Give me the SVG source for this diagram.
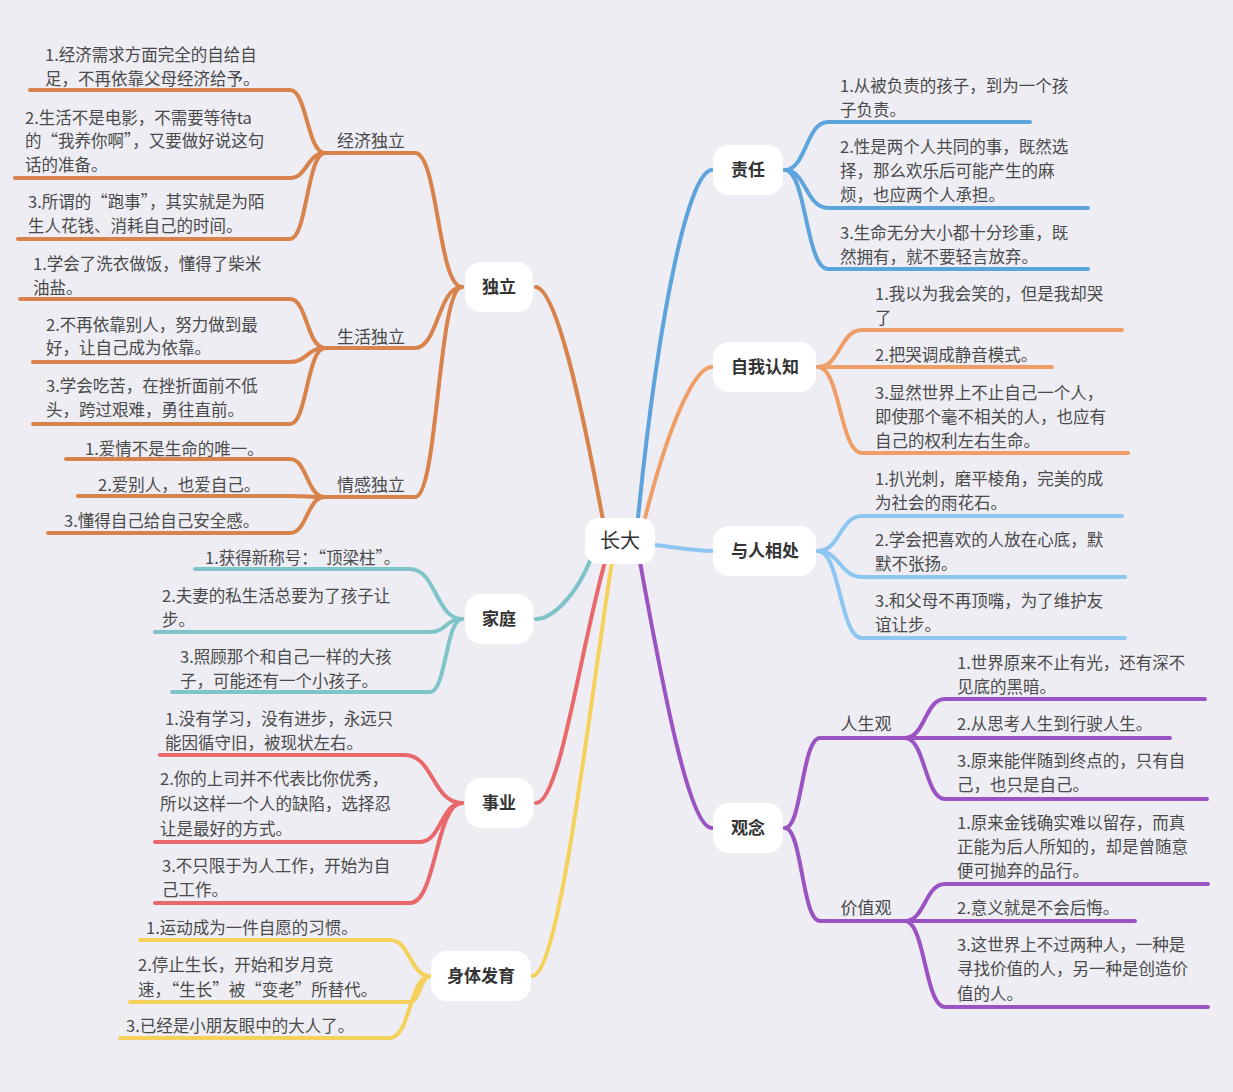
<svg xmlns="http://www.w3.org/2000/svg" width="1233" height="1092" viewBox="0 0 1233 1092">
<style>
.t{font-family:"Noto Sans CJK SC","Liberation Sans",sans-serif;font-size:16.5px;fill:#4a4a4a}
.s{font-family:"Noto Sans CJK SC","Liberation Sans",sans-serif;font-size:17px;fill:#4a4a4a;text-anchor:middle}
.m{font-family:"Noto Sans CJK SC","Liberation Sans",sans-serif;font-size:17px;font-weight:bold;fill:#333;text-anchor:middle}
.box{fill:#fff}
path{fill:none;stroke-width:4;stroke-linecap:round}
.c1{stroke:#d8824c}.c2{stroke:#5da3dc}.c3{stroke:#f09e68}.c4{stroke:#8ec6f2}.c5{stroke:#9b52c2}.c6{stroke:#7ec4c9}.c7{stroke:#e8686c}.c8{stroke:#f5d15c}
</style>
<rect width="1233" height="1092" fill="#ededf3"/>
<g id="connectors">
<path class="c1" d="M603,520 C590,450 560,290 536,287"/>
<path class="c6" d="M592,556 C575,600 550,619 536,619"/>
<path class="c7" d="M605,562 C580,650 560,803 536,803"/>
<path class="c8" d="M612,562 C590,700 560,976 532,976"/>
<path class="c2" d="M638,518 C660,300 690,170 712,170"/>
<path class="c3" d="M645,518 C670,420 695,367 712,367"/>
<path class="c4" d="M655,545 C680,548 695,551 712,551"/>
<path class="c5" d="M640,562 C665,700 690,828 712,828"/>
<!-- 独立 subs -->
<path class="c1" d="M462,287 C438,287 438,153 415,153 H325"/>
<path class="c1" d="M462,287 C438,287 438,348 415,348 H325"/>
<path class="c1" d="M462,287 C438,287 438,497 415,497 H325"/>
<path class="c1" d="M325,153 C307,153 307,90 290,90 H30"/>
<path class="c1" d="M325,153 C307,153 307,178 290,178 H15"/>
<path class="c1" d="M325,153 C307,153 307,239 290,239 H18"/>
<path class="c1" d="M325,348 C307,348 307,299 290,299 H20"/>
<path class="c1" d="M325,348 C307,348 307,362 290,362 H33"/>
<path class="c1" d="M325,348 C307,348 307,424 290,424 H33"/>
<path class="c1" d="M325,497 C307,497 307,459 290,459 H66"/>
<path class="c1" d="M325,497 C307,497 307,496 290,496 H78"/>
<path class="c1" d="M325,497 C307,497 307,533 290,533 H48"/>
<!-- 家庭 -->
<path class="c6" d="M462,619 C436,619 436,569 410,569 H195"/>
<path class="c6" d="M462,619 C446,619 446,632 430,632 H155"/>
<path class="c6" d="M462,619 C446,619 446,692 430,692 H172"/>
<!-- 事业 -->
<path class="c7" d="M462,803 C433,803 433,755 405,755 H160"/>
<path class="c7" d="M462,803 C441,803 441,842 420,842 H155"/>
<path class="c7" d="M462,803 C436,803 436,903 410,903 H155"/>
<!-- 身体发育 -->
<path class="c8" d="M430,976 C410,976 410,940 390,940 H140"/>
<path class="c8" d="M430,976 C420,976 420,1002 410,1002 H130"/>
<path class="c8" d="M430,976 C410,976 410,1038 390,1038 H120"/>
<!-- 责任 -->
<path class="c2" d="M785,170 C806,170 806,122 828,122 H1030"/>
<path class="c2" d="M785,170 C806,170 806,208 828,208 H1088"/>
<path class="c2" d="M785,170 C806,170 806,269 828,269 H1088"/>
<!-- 自我认知 -->
<path class="c3" d="M818,367 C840,367 840,330 862,330 H1122"/>
<path class="c3" d="M818,367 C840,367 840,367 862,367 H1052"/>
<path class="c3" d="M818,367 C840,367 840,453 862,453 H1128"/>
<!-- 与人相处 -->
<path class="c4" d="M818,551 C840,551 840,516 862,516 H1122"/>
<path class="c4" d="M818,551 C840,551 840,577 862,577 H1125"/>
<path class="c4" d="M818,551 C840,551 840,638 862,638 H1125"/>
<!-- 观念 -->
<path class="c5" d="M785,828 C802,828 802,738 820,738 H905"/>
<path class="c5" d="M785,828 C802,828 802,921 820,921 H905"/>
<path class="c5" d="M905,738 C925,738 925,699 945,699 H1205"/>
<path class="c5" d="M905,738 C925,738 925,738 945,738 H1170"/>
<path class="c5" d="M905,738 C925,738 925,799 945,799 H1207"/>
<path class="c5" d="M905,921 C925,921 925,884 945,884 H1208"/>
<path class="c5" d="M905,921 C925,921 925,921 945,921 H1135"/>
<path class="c5" d="M905,921 C925,921 925,1007 945,1007 H1208"/>
</g>
<g id="root"><rect class="box" x="585" y="518" width="70" height="46" rx="14"/><text class="m" x="620" y="548" style="font-size:20px;font-weight:normal">长大</text></g>
<g id="n-duli"><rect class="box" x="465" y="262" width="68" height="50" rx="16"/><text class="m" x="499" y="293">独立</text></g>
<g id="n-jiating"><rect class="box" x="465" y="594" width="68" height="50" rx="16"/><text class="m" x="499" y="625">家庭</text></g>
<g id="n-shiye"><rect class="box" x="465" y="778" width="68" height="50" rx="16"/><text class="m" x="499" y="809">事业</text></g>
<g id="n-shenti"><rect class="box" x="431" y="951" width="100" height="50" rx="16"/><text class="m" x="481" y="982">身体发育</text></g>
<g id="n-zeren"><rect class="box" x="713" y="145" width="70" height="50" rx="16"/><text class="m" x="748" y="176">责任</text></g>
<g id="n-ziwo"><rect class="box" x="713" y="342" width="103" height="50" rx="16"/><text class="m" x="765" y="373">自我认知</text></g>
<g id="n-yuren"><rect class="box" x="713" y="526" width="103" height="50" rx="16"/><text class="m" x="765" y="557">与人相处</text></g>
<g id="n-guannian"><rect class="box" x="713" y="803" width="70" height="50" rx="16"/><text class="m" x="748" y="834">观念</text></g>
<g id="subs">
<text class="s" x="371" y="147">经济独立</text>
<text class="s" x="371" y="343">生活独立</text>
<text class="s" x="371" y="491">情感独立</text>
<text class="s" x="866" y="730">人生观</text>
<text class="s" x="866" y="914">价值观</text>
</g>
<g id="leaves">
<text class="t" x="45" y="61">1.经济需求方面完全的自给自</text><text class="t" x="45" y="85">足，不再依靠父母经济给予。</text>
<text class="t" x="25" y="124">2.生活不是电影，不需要等待ta</text><text class="t" x="25" y="147">的“我养你啊”，又要做好说这句</text><text class="t" x="25" y="171">话的准备。</text>
<text class="t" x="28" y="208">3.所谓的“跑事”，其实就是为陌</text><text class="t" x="28" y="232">生人花钱、消耗自己的时间。</text>
<text class="t" x="33" y="270">1.学会了洗衣做饭，懂得了柴米</text><text class="t" x="33" y="294">油盐。</text>
<text class="t" x="46" y="331">2.不再依靠别人，努力做到最</text><text class="t" x="46" y="354">好，让自己成为依靠。</text>
<text class="t" x="46" y="392">3.学会吃苦，在挫折面前不低</text><text class="t" x="46" y="416">头，跨过艰难，勇往直前。</text>
<text class="t" x="85" y="455">1.爱情不是生命的唯一。</text>
<text class="t" x="98" y="491">2.爱别人，也爱自己。</text>
<text class="t" x="64" y="527">3.懂得自己给自己安全感。</text>
<text class="t" x="205" y="564">1.获得新称号：“顶梁柱”。</text>
<text class="t" x="162" y="602">2.夫妻的私生活总要为了孩子让</text><text class="t" x="162" y="626">步。</text>
<text class="t" x="180" y="663">3.照顾那个和自己一样的大孩</text><text class="t" x="180" y="687">子，可能还有一个小孩子。</text>
<text class="t" x="165" y="725">1.没有学习，没有进步，永远只</text><text class="t" x="165" y="749">能因循守旧，被现状左右。</text>
<text class="t" x="160" y="785">2.你的上司并不代表比你优秀，</text><text class="t" x="160" y="810">所以这样一个人的缺陷，选择忍</text><text class="t" x="160" y="835">让是最好的方式。</text>
<text class="t" x="162" y="872">3.不只限于为人工作，开始为自</text><text class="t" x="162" y="896">己工作。</text>
<text class="t" x="146" y="934">1.运动成为一件自愿的习惯。</text>
<text class="t" x="138" y="971">2.停止生长，开始和岁月竞</text><text class="t" x="138" y="996">速，“生长”被“变老”所替代。</text>
<text class="t" x="126" y="1032">3.已经是小朋友眼中的大人了。</text>
<text class="t" x="840" y="92">1.从被负责的孩子，到为一个孩</text><text class="t" x="840" y="116">子负责。</text>
<text class="t" x="840" y="153">2.性是两个人共同的事，既然选</text><text class="t" x="840" y="177">择，那么欢乐后可能产生的麻</text><text class="t" x="840" y="201">烦，也应两个人承担。</text>
<text class="t" x="840" y="239">3.生命无分大小都十分珍重，既</text><text class="t" x="840" y="263">然拥有，就不要轻言放弃。</text>
<text class="t" x="875" y="300">1.我以为我会笑的，但是我却哭</text><text class="t" x="875" y="324">了</text>
<text class="t" x="875" y="361">2.把哭调成静音模式。</text>
<text class="t" x="875" y="399">3.显然世界上不止自己一个人，</text><text class="t" x="875" y="423">即使那个毫不相关的人，也应有</text><text class="t" x="875" y="447">自己的权利左右生命。</text>
<text class="t" x="875" y="485">1.扒光刺，磨平棱角，完美的成</text><text class="t" x="875" y="509">为社会的雨花石。</text>
<text class="t" x="875" y="546">2.学会把喜欢的人放在心底，默</text><text class="t" x="875" y="570">默不张扬。</text>
<text class="t" x="875" y="607">3.和父母不再顶嘴，为了维护友</text><text class="t" x="875" y="631">谊让步。</text>
<text class="t" x="957" y="669">1.世界原来不止有光，还有深不</text><text class="t" x="957" y="693">见底的黑暗。</text>
<text class="t" x="957" y="730">2.从思考人生到行驶人生。</text>
<text class="t" x="957" y="767">3.原来能伴随到终点的，只有自</text><text class="t" x="957" y="791">己，也只是自己。</text>
<text class="t" x="957" y="829">1.原来金钱确实难以留存，而真</text><text class="t" x="957" y="853">正能为后人所知的，却是曾随意</text><text class="t" x="957" y="877">便可抛弃的品行。</text>
<text class="t" x="957" y="914">2.意义就是不会后悔。</text>
<text class="t" x="957" y="951">3.这世界上不过两种人，一种是</text><text class="t" x="957" y="975">寻找价值的人，另一种是创造价</text><text class="t" x="957" y="1000">值的人。</text>
</g>
</svg>
